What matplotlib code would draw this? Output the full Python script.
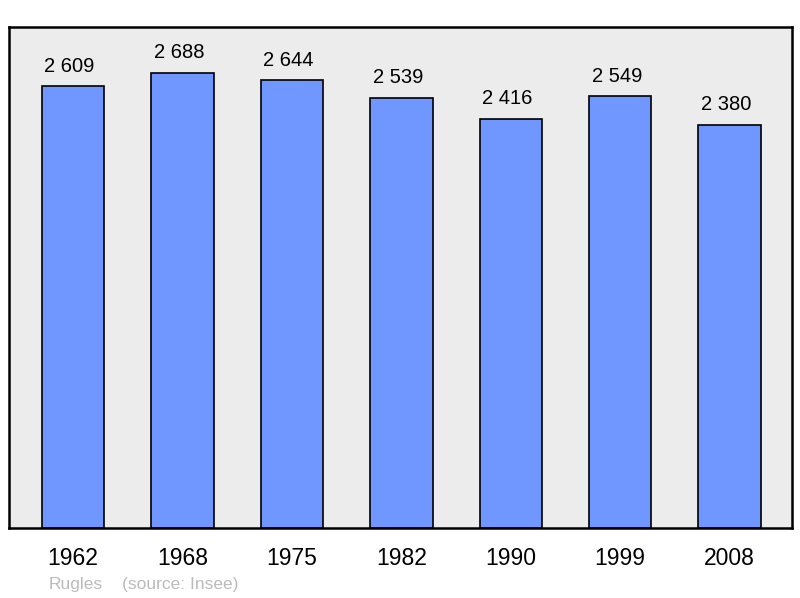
import matplotlib
matplotlib.use("Agg")
import matplotlib.pyplot as plt

years = ["1962", "1968", "1975", "1982", "1990", "1999", "2008"]
population = [2609, 2688, 2644, 2539, 2416, 2549, 2380]
value_labels = ["2 609", "2 688", "2 644", "2 539", "2 416", "2 549", "2 380"]
commune = "Rugles"
source = "(source: Insee)"

plt.rcParams['font.family'] = ['Liberation Sans', 'DejaVu Sans']

fig = plt.figure(figsize=(8.0, 5.98), dpi=100)
ax = fig.add_axes([9/800, 70/598, 783/800, 501/598])
ax.set_facecolor('#ECECEC')

x = list(range(len(years)))
ax.bar(x, population, width=0.57, color='#7097FF', edgecolor='black', linewidth=1.2, zorder=2)
ymax = 2957
ax.set_ylim(0, ymax)
ax.set_xlim(-0.585, 6.57)
for xi, v, lab in zip(x, population, value_labels):
    ax.annotate(lab, (xi, v), xytext=(-2.5, 7.5), textcoords='offset points',
                ha='center', va='bottom', fontsize=14.5, color='black')

ax.set_yticks([])
ax.set_xticks(x)
ax.set_xticklabels(years, fontsize=16.5)
ax.tick_params(axis='x', length=0, pad=14)
for s in ax.spines.values():
    s.set_linewidth(1.8)
    s.set_color('black')

fig.text(49/800, 1 - 584/598, commune, fontsize=12.5, color='#BBBBBB', va='center', ha='left')
fig.text(122/800, 1 - 584/598, source, fontsize=12.5, color='#BBBBBB', va='center', ha='left')

fig.savefig("out.png", dpi=100)
